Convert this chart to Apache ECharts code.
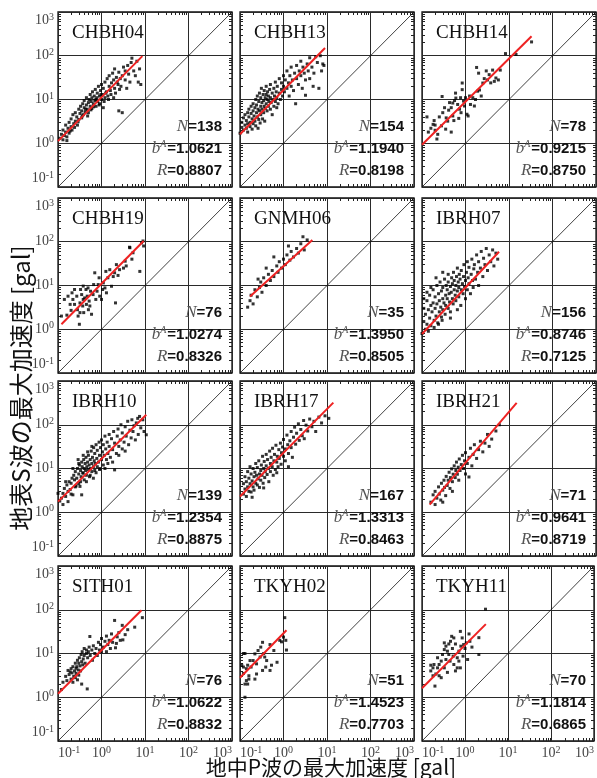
<!DOCTYPE html>
<html><head><meta charset="utf-8">
<script src="https://cdn.jsdelivr.net/npm/echarts@6.0.0/dist/echarts.min.js"></script>
<style>html,body{margin:0;padding:0;background:#fff}#c{width:597px;height:778px}</style>
</head><body><div id="c"></div>
<script>
// ---------------- DATA ----------------
const stations = ['CHBH04','CHBH13','CHBH14','CHBH19','GNMH06','IBRH07','IBRH10','IBRH17','IBRH21','SITH01','TKYH02','TKYH11'];
const nValues = ['138','154','78','76','35','156','139','167','71','76','51','70'];
const bValues = ['1.0621','1.1940','0.9215','1.0274','1.3950','0.8746','1.2354','1.3313','0.9641','1.0622','1.4523','1.1814'];
const rValues = ['0.8807','0.8198','0.8750','0.8326','0.8505','0.7125','0.8875','0.8463','0.8719','0.8832','0.7703','0.6865'];

const tickValues = [0.1, 1, 10, 100, 1000];
const tickExponents = ['-1', '0', '1', '2', '3'];
const minorTickValues = [0.2,0.3,0.4,0.5,0.6,0.7,0.8,0.9,2,3,4,5,6,7,8,9,20,30,40,50,60,70,80,90,200,300,400,500,600,700,800,900];
const identityLine = [[0.1, 0.1], [1000, 1000]];

const pts_CHBH04 = [[0.11,1.3],[0.12,1.6],[0.13,1.2],[0.13,2.0],[0.14,1.5],[0.15,1.8],[0.15,2.6],[0.16,1.4],[0.17,2.2],[0.18,3.0],[0.18,1.7],[0.2,2.4],[0.2,3.6],[0.21,2.0],[0.22,4.5],[0.23,2.8],[0.25,3.2],[0.25,5.0],[0.27,4.0],[0.28,2.6],[0.3,3.5],[0.3,6.0],[0.32,4.8],[0.33,7.0],[0.35,3.8],[0.35,5.5],[0.37,8.0],[0.38,4.5],[0.4,6.5],[0.4,9.5],[0.42,5.2],[0.45,7.5],[0.45,11],[0.47,6.0],[0.5,8.5],[0.5,5.0],[0.52,10],[0.55,7.0],[0.55,13],[0.58,9.0],[0.6,6.2],[0.6,11],[0.62,15],[0.65,8.0],[0.68,12],[0.7,9.5],[0.72,17],[0.75,7.0],[0.78,11],[0.8,14],[0.82,9.0],[0.85,20],[0.9,12],[0.9,8.0],[0.95,16],[1.0,10],[1.0,22],[1.05,13],[1.1,6.5],[1.1,18],[1.2,11],[1.2,25],[1.3,15],[1.35,30],[1.4,12],[1.5,20],[1.5,35],[1.6,16],[1.7,24],[1.8,40],[1.9,28],[2.0,18],[2.0,50],[2.2,32],[2.3,25],[2.5,5.5],[2.5,42],[2.7,30],[2.8,20],[3.0,5.0],[3.0,35],[3.2,55],[3.5,28],[3.5,45],[3.8,18],[4.0,60],[4.2,38],[4.5,25],[4.8,70],[5.0,88],[5.5,45],[6.0,35],[6.5,75],[7.0,25],[7.5,50],[8.0,22],[0.16,1.15],[0.19,1.9],[0.24,2.3],[0.29,3.1],[0.36,4.2],[0.43,6.0],[0.48,4.2],[0.57,5.8],[0.66,6.8],[0.74,10],[0.88,7.5],[0.97,13],[1.15,9.0],[1.25,14],[1.45,10],[1.65,13],[2.1,14],[2.4,22],[1.9,11],[2.6,17]];
const pts_CHBH13 = [[0.1,1.7],[0.11,2.3],[0.11,3.0],[0.12,2.0],[0.12,3.8],[0.13,2.6],[0.13,4.5],[0.14,2.2],[0.14,3.3],[0.15,5.0],[0.15,2.8],[0.16,4.0],[0.16,6.0],[0.17,3.0],[0.17,2.4],[0.18,4.8],[0.18,7.0],[0.19,3.6],[0.2,5.5],[0.2,2.8],[0.2,8.0],[0.21,4.2],[0.22,6.5],[0.22,3.2],[0.23,10],[0.24,5.0],[0.24,7.5],[0.25,4.0],[0.25,12],[0.26,6.0],[0.27,9.0],[0.27,3.5],[0.28,5.5],[0.28,14],[0.3,7.0],[0.3,4.5],[0.3,11],[0.31,18],[0.32,6.0],[0.32,8.5],[0.33,3.6],[0.34,13],[0.35,5.0],[0.35,9.5],[0.36,7.0],[0.36,16],[0.37,3.2],[0.38,11],[0.38,6.2],[0.4,8.0],[0.4,20],[0.4,13],[0.42,5.5],[0.42,10],[0.43,15],[0.45,7.0],[0.45,12],[0.46,9.0],[0.48,17],[0.5,6.0],[0.5,11],[0.5,22],[0.52,8.5],[0.55,14],[0.55,4.5],[0.57,10],[0.6,18],[0.6,7.0],[0.62,12],[0.65,9.0],[0.65,25],[0.68,15],[0.7,6.5],[0.7,11],[0.72,20],[0.75,8.0],[0.8,14],[0.8,30],[0.85,10],[0.9,17],[0.9,24],[0.95,12],[1.0,20],[1.0,35],[1.05,15],[1.1,28],[1.2,18],[1.2,45],[1.3,24],[1.35,12],[1.4,35],[1.5,20],[1.5,55],[1.6,28],[1.7,16],[1.8,40],[1.9,8.0],[2.0,30],[2.0,60],[2.2,22],[2.3,45],[2.5,35],[2.5,75],[2.7,18],[2.8,55],[3.0,40],[3.2,12.5],[3.2,28],[3.5,65],[3.7,45],[4.0,30],[4.0,90],[4.5,55],[4.8,20],[5.0,40],[5.5,95],[6.0,70],[6.5,18],[7.0,100],[7.5,45],[8.0,65],[8.5,60],[0.15,1.8],[0.19,2.1],[0.23,2.5],[0.29,2.9],[0.26,2.2]];
const pts_CHBH14 = [[0.13,4.0],[0.18,2.7],[0.2,2.6],[0.2,1.98],[0.23,1.6],[0.22,1.25],[0.14,1.8],[0.29,11.7],[0.3,5.0],[0.33,6.5],[0.36,3.8],[0.39,3.2],[0.41,5.7],[0.47,6.5],[0.51,8.3],[0.51,4.2],[0.56,9.5],[0.47,1.8],[0.54,3.3],[0.6,10.8],[0.66,7.7],[0.73,6.0],[0.77,11],[0.79,5.0],[0.84,23.8],[0.84,16.8],[0.9,9.2],[0.95,7.1],[1.0,11],[1.08,4.6],[1.15,4.2],[1.24,12],[1.3,7.7],[1.47,11],[1.6,7.1],[1.7,10],[1.8,54],[1.9,15.5],[2.0,40],[2.1,16.5],[2.3,12],[2.5,23.8],[2.7,30],[3.0,45],[3.2,28],[3.5,37],[3.8,24],[4.2,47],[4.6,26],[5.0,31],[5.7,28],[6.3,47],[8.3,112],[14.5,107],[33,207],[0.16,2.2],[0.19,3.3],[0.25,4.0],[0.28,2.5],[0.35,2.1],[0.43,8.5],[0.59,14],[0.7,3.7]];
const pts_CHBH19 = [[0.12,2.0],[0.16,2.1],[0.14,4.8],[0.19,3.7],[0.2,2.7],[0.22,4.8],[0.24,3.7],[0.27,5.7],[0.28,2.8],[0.29,2.0],[0.31,1.3],[0.32,4.0],[0.33,8.1],[0.35,6.2],[0.37,3.4],[0.38,9.7],[0.39,2.4],[0.41,5.2],[0.44,8.1],[0.45,3.7],[0.47,5.7],[0.49,8.8],[0.52,4.4],[0.56,7.4],[0.59,2.2],[0.64,6.2],[0.66,10.5],[0.7,19.5],[0.74,4.8],[0.79,7.4],[0.84,10.5],[0.88,15],[0.91,5.7],[1.0,4.8],[1.06,8.1],[1.1,11.5],[1.2,8.8],[1.26,21],[1.3,6.8],[1.4,15],[1.55,23],[1.7,9.6],[1.86,16],[2.0,19.5],[2.1,4.0],[2.2,30],[2.4,17],[2.6,23],[3.2,25],[3.5,36],[3.7,28],[4.5,73],[5.0,40],[5.3,56],[7.6,21],[8.3,95],[9.0,104],[9.3,80],[4.4,75],[0.17,5.7],[0.21,6.8],[0.24,8.1],[0.32,2.4],[0.38,4.8],[0.5,2.8],[0.54,3.4]];
const pts_GNMH06 = [[0.15,3.2],[0.17,4.5],[0.18,6.0],[0.2,3.8],[0.22,8.0],[0.25,5.5],[0.28,9.0],[0.3,12],[0.32,7.0],[0.35,15],[0.4,10],[0.45,18],[0.5,13],[0.55,22],[0.6,16],[0.7,28],[0.75,20],[0.8,35],[0.9,25],[1.0,40],[1.1,30],[1.2,50],[1.4,38],[1.5,60],[1.7,45],[2.0,70],[2.2,55],[2.5,90],[3.0,65],[3.5,110],[0.6,45],[1.3,80],[2.8,130],[0.4,25],[0.26,14]];
const pts_IBRH07 = [[0.1,0.8],[0.11,1.5],[0.11,3.0],[0.12,1.0],[0.12,2.2],[0.13,4.5],[0.13,1.3],[0.14,2.8],[0.15,1.8],[0.15,6.0],[0.16,3.5],[0.16,1.2],[0.17,2.5],[0.18,4.0],[0.18,8.0],[0.19,1.6],[0.2,3.0],[0.2,5.5],[0.21,2.0],[0.22,10],[0.22,3.8],[0.23,1.4],[0.24,6.5],[0.25,2.5],[0.25,4.5],[0.26,12],[0.27,3.2],[0.28,7.5],[0.28,1.9],[0.3,5.0],[0.3,2.8],[0.3,9.0],[0.32,4.0],[0.33,14],[0.34,2.2],[0.35,6.0],[0.35,3.5],[0.36,10],[0.38,5.0],[0.38,8.0],[0.4,3.0],[0.4,12],[0.4,18],[0.42,6.5],[0.43,4.2],[0.45,9.5],[0.45,2.5],[0.47,7.0],[0.48,15],[0.5,5.0],[0.5,11],[0.52,3.8],[0.53,20],[0.55,8.0],[0.55,13],[0.58,6.0],[0.6,10],[0.6,4.5],[0.62,16],[0.65,7.5],[0.65,25],[0.68,12],[0.7,5.5],[0.7,9.0],[0.72,18],[0.75,14],[0.78,3.5],[0.8,8.0],[0.8,22],[0.85,11],[0.88,6.5],[0.9,16],[0.92,30],[0.95,9.5],[1.0,13],[1.0,5.0],[1.05,20],[1.1,8.0],[1.1,35],[1.15,15],[1.2,11],[1.2,26],[1.3,6.5],[1.35,18],[1.4,40],[1.45,13],[1.5,9.0],[1.55,24],[1.6,30],[1.7,14],[1.8,50],[1.9,20],[2.0,10],[2.0,35],[2.2,25],[2.3,60],[2.5,16],[2.6,42],[2.8,30],[3.0,70],[3.2,22],[3.5,50],[3.8,35],[4.2,65],[4.5,28],[5.0,55],[5.5,40],[0.14,0.9],[0.19,1.1],[0.24,1.3],[0.29,1.6],[0.45,1.8],[0.65,2.8],[0.11,5.0],[0.13,7.0],[0.16,9.0],[0.21,15],[0.3,20]];
const pts_IBRH10 = [[0.1,2.7],[0.11,1.8],[0.12,2.1],[0.13,2.7],[0.13,1.5],[0.14,3.5],[0.15,2.3],[0.16,4.2],[0.17,1.75],[0.17,3.0],[0.18,5.0],[0.19,3.3],[0.2,4.6],[0.2,2.6],[0.21,6.0],[0.22,2.5],[0.23,7.0],[0.24,5.5],[0.25,3.8],[0.25,8.5],[0.27,6.0],[0.28,10],[0.29,16],[0.3,4.5],[0.3,7.5],[0.31,12],[0.32,3.9],[0.33,9.0],[0.34,6.5],[0.35,2.5],[0.35,14],[0.36,11],[0.37,8.0],[0.38,7.8],[0.39,16],[0.4,10],[0.4,5.5],[0.42,13],[0.43,9.0],[0.44,18],[0.45,7.0],[0.46,11],[0.48,14],[0.5,9.5],[0.5,20],[0.52,12],[0.53,6.5],[0.55,16],[0.56,10],[0.58,25],[0.6,13],[0.6,8.5],[0.62,18],[0.65,11],[0.66,30],[0.68,15],[0.7,9.0],[0.7,22],[0.72,13],[0.75,35],[0.78,17],[0.8,11],[0.8,26],[0.85,14],[0.88,40],[0.9,20],[0.92,10],[0.95,30],[1.0,16],[1.0,45],[1.05,24],[1.1,12],[1.1,35],[1.15,20],[1.2,55],[1.25,28],[1.3,16],[1.35,40],[1.4,22],[1.5,60],[1.5,32],[1.6,18],[1.7,48],[1.8,27],[1.9,70],[2.0,9.3],[2.0,38],[2.2,22],[2.3,55],[2.4,80],[2.5,32],[2.7,45],[2.8,100],[3.0,28],[3.0,65],[3.3,40],[3.5,90],[3.7,55],[4.0,120],[4.2,35],[4.5,75],[4.8,50],[5.0,130],[5.3,70],[5.6,95],[6.0,45],[6.3,110],[6.8,140],[7.0,60],[7.5,155],[8.0,85],[8.9,130],[9.5,70],[10.7,59],[0.26,4.0],[0.33,5.0],[0.45,5.0],[0.55,7.0],[0.65,6.0],[0.75,8.0],[0.9,9.5],[1.2,10],[1.4,13],[1.8,14],[2.5,20],[3.5,25],[0.22,10],[0.3,13],[0.38,20],[0.48,24],[0.6,32],[0.15,5.0]];
const pts_IBRH17 = [[0.12,2.6],[0.12,4.5],[0.13,3.4],[0.13,6.5],[0.14,2.3],[0.14,5],[0.15,3.8],[0.15,8.5],[0.16,3],[0.16,6],[0.17,4.5],[0.17,11],[0.18,2.9],[0.18,7.5],[0.19,5.2],[0.2,3.8],[0.2,10],[0.21,6.5],[0.21,3.2],[0.22,8.2],[0.23,4.6],[0.23,13],[0.24,7],[0.25,4.2],[0.25,10.5],[0.26,5.8],[0.27,15],[0.28,7.5],[0.28,3.7],[0.3,9],[0.3,5.4],[0.31,12],[0.32,7],[0.33,19],[0.34,4.6],[0.35,10],[0.36,14.5],[0.37,6.2],[0.38,8.5],[0.4,21],[0.4,11.5],[0.42,7.3],[0.43,16],[0.45,10],[0.46,5],[0.48,25],[0.5,13],[0.5,8.5],[0.52,18],[0.55,11],[0.56,29],[0.58,7],[0.6,15],[0.62,21],[0.65,9.5],[0.67,34],[0.7,14],[0.72,19],[0.75,11],[0.78,27],[0.8,17],[0.85,38],[0.88,12.5],[0.9,23],[0.95,31],[1.0,19],[1.0,46],[1.1,15],[1.1,28],[1.2,58],[1.25,35],[1.3,22],[1.4,43],[1.5,70],[1.5,30],[1.6,18],[1.7,52],[1.8,88],[1.9,36],[2.0,64],[2.2,105],[2.3,44],[2.5,78],[2.7,56],[2.9,125],[3.0,48],[3.3,98],[3.6,72],[4.0,135],[4.5,90],[5.0,120],[5.5,70],[6.5,150],[7.5,110],[9.0,160],[11,140],[0.19,2.2],[0.35,3.6],[0.7,8],[1.3,11]];
const pts_IBRH21 = [[0.16,1.7],[0.18,2.5],[0.2,1.5],[0.2,3.0],[0.22,2.1],[0.24,3.8],[0.25,2.6],[0.27,1.9],[0.28,4.6],[0.3,3.2],[0.32,5.4],[0.33,3.7],[0.35,2.4],[0.36,6.6],[0.38,4.1],[0.4,5.4],[0.42,8.2],[0.44,3.5],[0.45,6.2],[0.48,9.8],[0.5,5.0],[0.52,7.4],[0.55,11.5],[0.58,6.2],[0.6,9.0],[0.62,14],[0.65,7.4],[0.68,10.7],[0.7,5.4],[0.72,16.5],[0.75,9.0],[0.8,12.3],[0.85,20],[0.9,10],[0.95,15],[1.0,7.5],[1.0,23],[1.1,13],[1.2,18],[1.3,29],[1.4,11.5],[1.5,21],[1.6,35],[1.8,17],[2.0,27],[2.2,42],[2.5,24],[2.8,38],[3.2,60],[3.5,32],[4.0,47],[5.0,72],[6.0,100],[0.5,3.0],[0.3,1.7],[1.2,6.4]];
const pts_SITH01 = [[0.12,1.5],[0.13,2.2],[0.15,3.0],[0.16,2.4],[0.17,4.1],[0.18,3.3],[0.2,2.6],[0.2,4.5],[0.21,3.6],[0.22,2.2],[0.22,5.0],[0.23,3.0],[0.24,4.0],[0.25,6.0],[0.25,2.8],[0.26,3.5],[0.27,5.0],[0.28,2.5],[0.28,7.0],[0.29,4.2],[0.3,3.2],[0.3,6.0],[0.31,8.0],[0.32,5.2],[0.33,4.0],[0.34,9.5],[0.35,6.5],[0.35,2.0],[0.36,11],[0.37,5.5],[0.38,7.5],[0.4,9.0],[0.4,13],[0.42,6.0],[0.45,10],[0.45,12],[0.47,1.55],[0.48,8.0],[0.5,11],[0.52,14],[0.54,24.5],[0.55,9.0],[0.6,12],[0.62,7.0],[0.65,15],[0.7,10],[0.75,13],[0.8,9.0],[0.85,18],[0.9,12],[0.95,16],[1.0,22],[1.0,11],[1.1,14],[1.2,19],[1.3,25],[1.3,11],[1.4,16],[1.5,20],[1.6,13],[1.7,28],[1.8,18],[2.0,57],[2.1,13.5],[2.2,17],[2.3,24],[2.5,30],[2.7,20],[3.0,44],[3.1,20.5],[3.5,27],[4.0,35],[5.8,40],[8.7,66],[0.19,3.8],[0.26,4.6]];
const pts_TKYH02 = [[0.12,10],[0.13,10],[0.11,5.4],[0.12,4.9],[0.14,4.5],[0.15,5.4],[0.17,6.9],[0.12,3.5],[0.16,3.1],[0.16,2.6],[0.13,2.0],[0.15,2.0],[0.14,2.4],[0.13,1.0],[0.2,6.9],[0.24,5.8],[0.26,11.7],[0.3,14],[0.33,18],[0.35,10],[0.37,8.3],[0.41,6.9],[0.33,4.1],[0.49,16],[0.53,5.4],[0.71,6.3],[0.82,20],[0.9,18.5],[1.0,23.7],[1.07,66],[1.17,12],[1.13,20],[0.22,9.8],[0.29,8.3],[0.18,4.9],[0.39,4.9],[0.6,11.7],[0.49,4.1],[0.24,3.4],[0.22,2.6]];
const pts_TKYH11 = [[0.2,1.8],[0.16,4.0],[0.18,4.7],[0.19,5.6],[0.23,4.7],[0.25,5.6],[0.28,2.8],[0.33,17.5],[0.36,14.7],[0.39,11.3],[0.42,9.5],[0.45,6.7],[0.49,24.7],[0.51,13],[0.53,8.7],[0.55,5.6],[0.6,4.0],[0.66,4.7],[0.72,6.7],[0.78,32],[0.86,22.7],[0.93,16],[1.0,13],[1.07,17.5],[1.15,7.3],[1.24,28],[1.3,19],[1.45,14],[2.1,23],[2.1,9.5],[3.0,103],[0.28,6.7],[0.3,9.5],[0.33,4.7],[0.36,7.3],[0.39,3.7],[0.23,8],[0.21,3.4],[0.25,3.1],[0.18,3.1],[0.72,11.3],[0.8,14.7],[0.9,8.7],[0.46,19],[0.6,16.5],[0.66,8],[0.78,4.7],[0.55,22.7],[0.42,16.5],[0.33,12.3],[0.16,5.4]];

const scatterData = [pts_CHBH04, pts_CHBH13, pts_CHBH14, pts_CHBH19, pts_GNMH06, pts_IBRH07, pts_IBRH10, pts_IBRH17, pts_IBRH21, pts_SITH01, pts_TKYH02, pts_TKYH11];

// regression line end points [[x0,y0],[x1,y1]]
const fitLines = [
  [[0.1,1.12],[8.7,98]],
  [[0.1,1.6],[9,150]],
  [[0.1,0.92],[33,280]],
  [[0.12,1.3],[9.3,104]],
  [[0.17,5.6],[4.6,110]],
  [[0.1,0.78],[5.9,59]],
  [[0.1,1.75],[10.7,170]],
  [[0.1,2.3],[14,320]],
  [[0.15,1.5],[15,316]],
  [[0.1,1.2],[8.3,97]],
  [[0.1,2.8],[1.17,34]],
  [[0.1,1.6],[3.05,47]]
];

const xTitle = '地中P波の最大加速度 [gal]';
const yTitle = '地表S波の最大加速度 [gal]';

// ---------------- LAYOUT ----------------
const colLeft = [58, 240, 422];
const rowTop = [12, 198, 381, 566];
const PW = 174, PH = 175;

const serif = '"Liberation Serif","Times New Roman",serif';
const sans = '"Liberation Sans",Arial,sans-serif';
const cjk = '"Noto Sans CJK JP",sans-serif';

function expLabel(v) {
  let idx = 0, best = 1e9;
  tickValues.forEach((t, k) => { const d = Math.abs(Math.log10(v) - Math.log10(t)); if (d < best) { best = d; idx = k; } });
  return '{b|10}{s|' + tickExponents[idx] + '}';
}
const labelRich = {
  b: { fontFamily: serif, fontSize: 14, color: '#444' },
  s: { fontFamily: serif, fontSize: 10, color: '#444', padding: [0, 0, 7, 0] }
};

const grids = [], xAxes = [], yAxes = [], series = [], graphics = [];
const baseAxis = { type: 'log', logBase: 10, min: 0.1, max: 1000 };

for (let i = 0; i < 12; i++) {
  const r = Math.floor(i / 3), c = i % 3;
  grids.push({ left: colLeft[c], top: rowTop[r], width: PW, height: PH, show: true, borderColor: '#111', borderWidth: 1.3, backgroundColor: 'transparent' });
}
for (let i = 0; i < 12; i++) {
  const r = Math.floor(i / 3), c = i % 3;
  grids.push({ left: colLeft[c], top: rowTop[r], width: PW, height: PH, show: false });
}

const minorTick = { show: true, inside: true, length: 3, customValues: minorTickValues, lineStyle: { color: '#222', width: 1 } };

for (let i = 0; i < 12; i++) {
  const r = Math.floor(i / 3), c = i % 3;
  const xMain = xAxes.length;
  xAxes.push(Object.assign({}, baseAxis, {
    gridIndex: i, position: 'bottom',
    axisLine: { show: false }, axisTick: { show: false },
    splitLine: { show: true, lineStyle: { color: '#2a2a2a', width: 1 } },
    axisLabel: { show: r === 3, margin: 4, formatter: expLabel, rich: labelRich, alignMinLabel: 'left', alignMaxLabel: 'right' }
  }));
  xAxes.push(Object.assign({}, baseAxis, {
    gridIndex: i, position: 'top',
    axisLine: { show: false }, splitLine: { show: false }, axisLabel: { show: false }, axisTick: minorTick
  }));
  xAxes.push(Object.assign({}, baseAxis, {
    gridIndex: 12 + i, position: 'bottom',
    axisLine: { show: false }, splitLine: { show: false }, axisLabel: { show: false }, axisTick: minorTick
  }));
  const yMain = yAxes.length;
  yAxes.push(Object.assign({}, baseAxis, {
    gridIndex: i, position: 'left',
    axisLine: { show: false }, axisTick: { show: false },
    splitLine: { show: true, lineStyle: { color: '#2a2a2a', width: 1 } },
    axisLabel: { show: c === 0, margin: 4, formatter: expLabel, rich: labelRich, verticalAlignMinLabel: 'bottom', verticalAlignMaxLabel: 'top' }
  }));
  yAxes.push(Object.assign({}, baseAxis, {
    gridIndex: i, position: 'right',
    axisLine: { show: false }, splitLine: { show: false }, axisLabel: { show: false }, axisTick: minorTick
  }));
  yAxes.push(Object.assign({}, baseAxis, {
    gridIndex: 12 + i, position: 'left',
    axisLine: { show: false }, splitLine: { show: false }, axisLabel: { show: false }, axisTick: minorTick
  }));

  series.push({
    type: 'line', xAxisIndex: xMain, yAxisIndex: yMain, data: identityLine,
    symbol: 'none', lineStyle: { color: '#111', width: 0.8 }, silent: true, z: 2
  });
  series.push({
    type: 'scatter', xAxisIndex: xMain, yAxisIndex: yMain, data: scatterData[i],
    symbol: 'rect', symbolSize: 3, itemStyle: { color: '#000' }, silent: true, z: 3
  });
  series.push({
    type: 'line', xAxisIndex: xMain, yAxisIndex: yMain, data: fitLines[i],
    symbol: 'none', lineStyle: { color: '#ee2222', width: 2 }, silent: true, z: 4
  });

  const L = colLeft[c], T = rowTop[r];
  graphics.push({
    type: 'text', x: L + 14, y: T + 21, z: 10,
    style: { text: stations[i], font: '19px ' + serif, fill: '#111', align: 'left', verticalAlign: 'middle' }
  });
  const statRich = {
    i: { fontFamily: serif, fontStyle: 'italic', fontSize: 17, fill: '#555', color: '#555' },
    v: { fontFamily: sans, fontWeight: 'bold', fontSize: 15, fill: '#111', color: '#111' },
    u: { fontFamily: serif, fontStyle: 'italic', fontSize: 10, fill: '#555', color: '#555', padding: [0, 1, 9, 0] }
  };
  const lines = [
    '{i|N}{v|=' + nValues[i] + '}',
    '{i|b}{u|A}{v|=' + bValues[i] + '}',
    '{i|R}{v|=' + rValues[i] + '}'
  ];
  const offs = [60, 38, 16];
  lines.forEach((t, k) => {
    graphics.push({
      type: 'text', x: L + PW - 10, y: T + PH - offs[k], z: 10,
      style: { text: t, rich: statRich, align: 'right', verticalAlign: 'middle' }
    });
  });
}

graphics.push({
  type: 'text', x: 331, y: 767, z: 10,
  style: { text: xTitle, font: '21px ' + cjk, fill: '#111', align: 'center', verticalAlign: 'middle' }
});
graphics.push({
  type: 'text', x: 21, y: 388, rotation: Math.PI / 2, z: 10,
  style: { text: yTitle, font: '24px ' + cjk, fill: '#111', align: 'center', verticalAlign: 'middle' }
});

const chart = echarts.init(document.getElementById('c'), null, { renderer: 'canvas' });
chart.setOption({
  animation: false,
  backgroundColor: '#fff',
  grid: grids,
  xAxis: xAxes,
  yAxis: yAxes,
  series: series,
  graphic: graphics
});
</script>
</body></html>
